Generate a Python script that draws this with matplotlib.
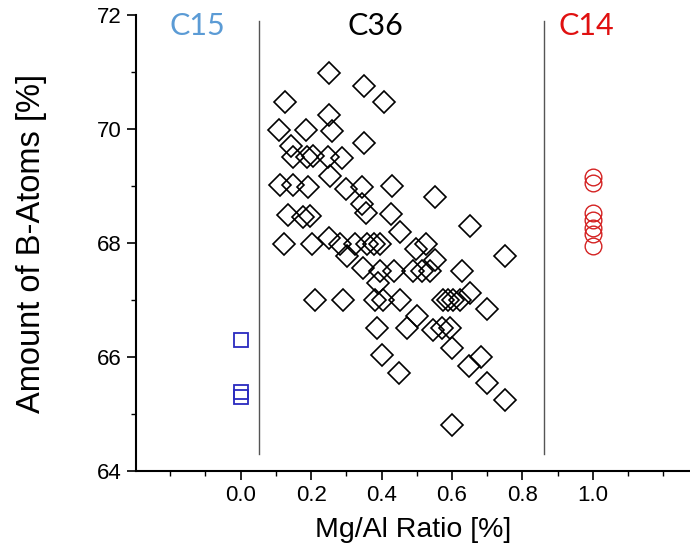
import matplotlib
matplotlib.use("Agg")
import matplotlib.pyplot as plt

# C15 phase (Mg/Al = 0)
c15_x = [0.0, 0.0, 0.0]
c15_y = [66.3, 65.38, 65.3]

# C14 phase (Mg/Al = 1)
c14_x = [1.0, 1.0, 1.0, 1.0, 1.0, 1.0, 1.0]
c14_y = [69.15, 69.05, 68.52, 68.4, 68.27, 68.15, 67.95]

# C36 phase
c36_x = [0.25, 0.35, 0.407, 0.126, 0.252,
         0.11, 0.185, 0.26, 0.35,
         0.142, 0.149, 0.187, 0.206, 0.249, 0.287,
         0.112, 0.149, 0.191, 0.254, 0.298, 0.344, 0.431,
         0.552,
         0.135, 0.177, 0.197, 0.345, 0.356, 0.427,
         0.652, 0.453,
         0.122, 0.203, 0.25, 0.282, 0.325, 0.36, 0.38, 0.396, 0.497, 0.526,
         0.552, 0.301, 0.751,
         0.348, 0.396, 0.435, 0.49, 0.514, 0.538, 0.628,
         0.39,
         0.211, 0.291, 0.381, 0.405, 0.453, 0.576, 0.59, 0.604, 0.623, 0.651,
         0.70, 0.50,
         0.386, 0.471, 0.547, 0.571, 0.594,
         0.40, 0.60, 0.683, 0.649, 0.45, 0.70, 0.751, 0.60]
c36_y = [70.98, 70.75, 70.48, 70.48, 70.24,
         69.98, 69.98, 69.97, 69.76,
         69.70, 69.51, 69.51, 69.52, 69.51, 69.50,
         69.01, 69.01, 68.99, 69.17, 68.95, 68.99, 69.0,
         68.8,
         68.49, 68.45, 68.48, 68.69, 68.52, 68.51,
         68.29, 68.2,
         67.99, 67.99, 68.08, 67.99, 67.99, 67.99, 67.99, 67.99, 67.89, 67.99,
         67.7, 67.78, 67.78,
         67.56, 67.5, 67.5, 67.5, 67.5, 67.5, 67.5,
         67.3,
         67.0, 67.0, 67.0, 67.0, 67.0, 67.0, 67.0, 67.0, 67.0, 67.12,
         66.84, 66.72,
         66.5, 66.5, 66.48, 66.5, 66.5,
         66.04, 66.15, 66.0, 65.84, 65.72, 65.55, 65.25, 64.81]

# phase boundaries and labels
bound_x = [0.052, 0.862]
phase_names = ["C15", "C36", "C14"]
phase_x = [-0.123, 0.384, 0.981]
phase_colors = ["#5B9BD5", "#000000", "#E01010"]

x_major = [0.0, 0.2, 0.4, 0.6, 0.8, 1.0]
x_minor = [-0.2, -0.1, 0.1, 0.3, 0.5, 0.7, 0.9, 1.1, 1.2]
y_major = [64, 66, 68, 70, 72]
y_minor = [65, 67, 69, 71]

plt.rcParams["font.family"] = ["Liberation Sans", "DejaVu Sans"]

fig = plt.figure(figsize=(6.9, 5.56), dpi=100)
ax = fig.add_axes([0.1967, 0.1529, 0.8033, 0.8201])

for bx in bound_x:
    ax.plot([bx, bx], [64.3, 71.9], color="#555555", lw=1.0, zorder=1)

ax.plot(c36_x, c36_y, "D", ms=11.3, mfc="none", mec="black", mew=1.2, ls="none")
ax.plot(c15_x, c15_y, "s", ms=10.5, mfc="none", mec="#2A2ABF", mew=1.3, ls="none")
ax.plot(c14_x, c14_y, "o", ms=12, mfc="none", mec="#D42222", mew=1.0, ls="none")

for name, px, col in zip(phase_names, phase_x, phase_colors):
    ax.text(px, 71.8, name, color=col, fontsize=22, family=["Lato", "DejaVu Sans"],
            ha="center", va="center")

ax.set_xlim(-0.298, 1.276)
ax.set_ylim(64, 72)
ax.set_xticks(x_major)
ax.set_xticklabels([f"{v:.1f}" for v in x_major])
ax.set_xticks(x_minor, minor=True)
ax.set_yticks(y_major)
ax.set_yticks(y_minor, minor=True)

ax.spines["top"].set_visible(False)
ax.spines["right"].set_visible(False)
for s in ["left", "bottom"]:
    ax.spines[s].set_linewidth(1.5)
ax.tick_params(which="major", length=6.5, width=1.2, labelsize=16, direction="out")
ax.tick_params(which="minor", length=3.5, width=1.0, direction="out")

ax.set_xlabel("Mg/Al Ratio [%]", fontsize=20.5, labelpad=8)
ax.set_ylabel("Amount of B-Atoms [%]", fontsize=23.5, labelpad=36)

plt.savefig("out.png", dpi=100)
